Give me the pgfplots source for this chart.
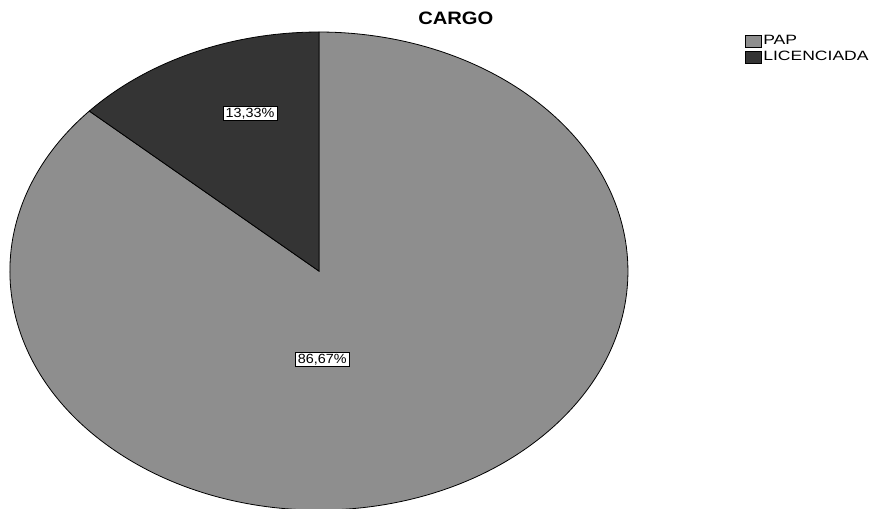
\documentclass[border=0pt]{standalone}
\usepackage{fontspec}
\setmainfont{Liberation Sans}
\newfontfamily\titlefont[FakeStretch=1.12]{Liberation Sans}
\newfontfamily\legfont[FakeStretch=1.3]{Liberation Sans}
\newfontfamily\labfont[FakeStretch=1.08]{Liberation Sans}
\usepackage{pgfplots}
\usepackage{pgfplotstable}
\pgfplotsset{compat=1.18}
\definecolor{papcol}{RGB}{142,142,142}
\definecolor{liccol}{RGB}{52,52,52}
\pgfplotstableread{
label value
PAP 86.67
LICENCIADA 13.33
}\datatable
\pgfplotstablegetelem{0}{value}\of\datatable\let\vPAP\pgfplotsretval
\pgfplotstablegetelem{1}{value}\of\datatable\let\vLIC\pgfplotsretval
\pgfmathsetmacro{\aLIC}{90+360*\vLIC/100}
\begin{document}
\begin{tikzpicture}
\begin{axis}[name=ax,
  x=309bp, y=239bp,
  xmin=-1.032, xmax=1.780, ymin=-0.992, ymax=1.134,
  hide axis,
  legend style={at={(axis cs:1.379,0.99)}, anchor=north west, draw=none, fill=none,
    font=\fontsize{13.5bp}{15bp}\legfont, inner sep=0pt, row sep=3.5bp,
    nodes={inner xsep=1.5bp, inner ysep=0.5bp}},
  legend cell align=left,
  legend image code/.code={\draw[#1] (0bp,-6bp) rectangle (16bp,6bp);},
]
\addlegendimage{fill=papcol, draw=black, line width=0.5bp}
\addlegendentry{PAP}
\addlegendimage{fill=liccol, draw=black, line width=0.5bp}
\addlegendentry{LICENCIADA}
% PAP wedge
\filldraw[fill=papcol, draw=black, line width=0.8bp]
  (axis cs:0,0) -- (axis cs:{cos(\aLIC)},{sin(\aLIC)})
  arc[start angle=\aLIC, end angle=450, x radius=309bp, y radius=239bp] -- cycle;
% LICENCIADA wedge
\filldraw[fill=liccol, draw=black, line width=0.8bp]
  (axis cs:0,0) -- (axis cs:0,1)
  arc[start angle=90, end angle=\aLIC, x radius=309bp, y radius=239bp] -- cycle;
\node[draw=black, fill=white, line width=0.6bp, inner xsep=2.5bp, inner ysep=1.5bp,
  font=\fontsize{13.3bp}{14bp}\labfont] at (axis cs:-0.223,0.659) {13,33\%};
\node[draw=black, fill=white, line width=0.6bp, inner xsep=2.5bp, inner ysep=1.5bp,
  font=\fontsize{13.3bp}{14bp}\labfont] at (axis cs:0.011,-0.370) {86,67\%};
\node[font=\fontsize{18bp}{20bp}\titlefont\bfseries] at (axis cs:0.443,1.059) {CARGO};
\end{axis}
\pgfresetboundingbox
\path[use as bounding box] (ax.south west) rectangle (ax.north east);
\end{tikzpicture}
\end{document}
